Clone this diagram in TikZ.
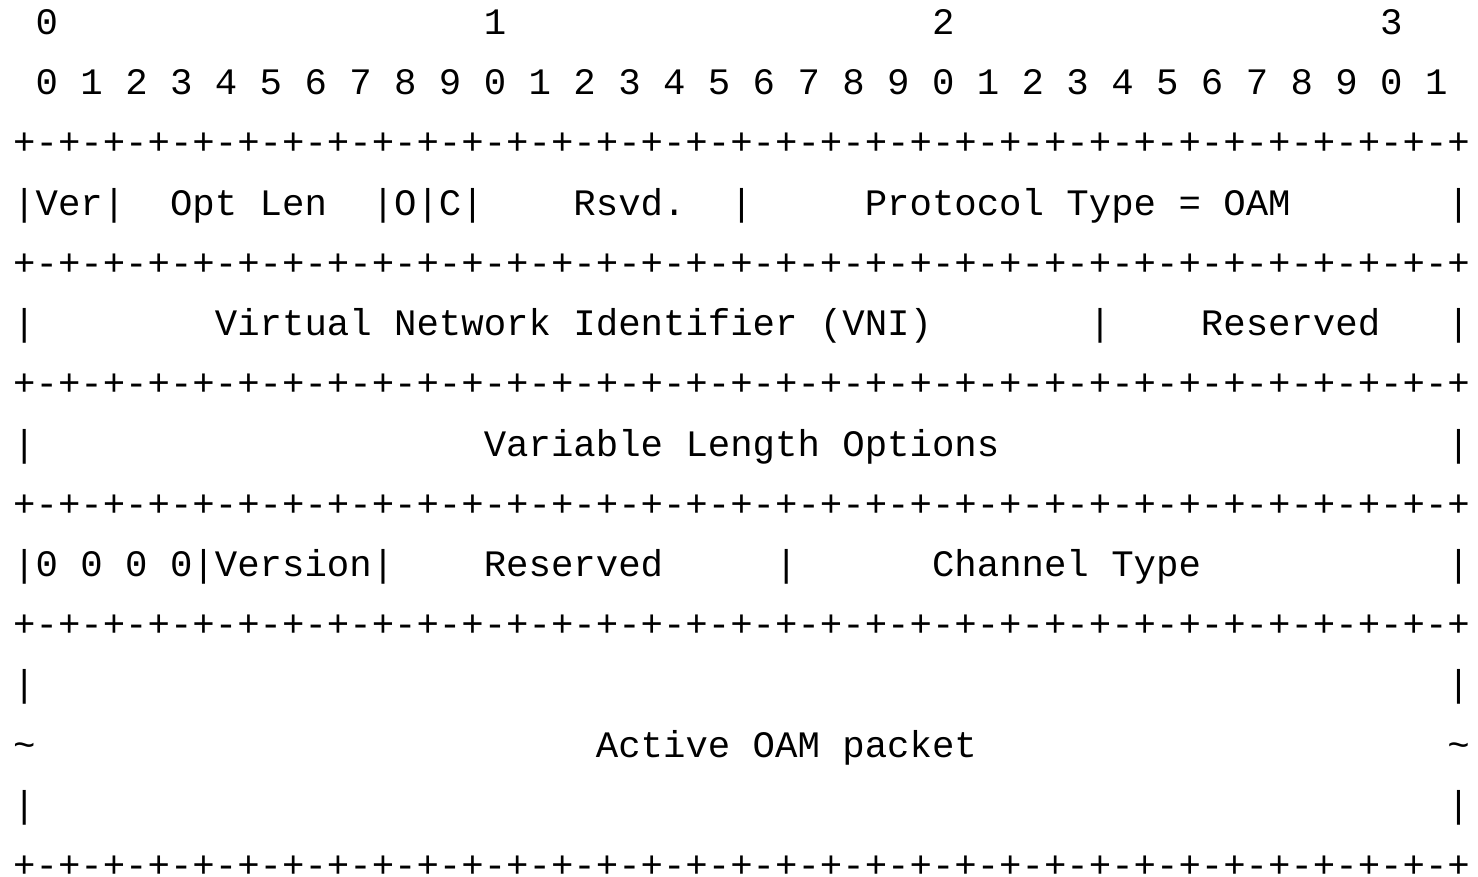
\documentclass[tikz,border=0pt]{standalone}
\usepackage{fontspec}
\newfontfamily\fieldfont{Liberation Mono}
\usepackage{tikz}
\usetikzlibrary{positioning}

\def\borderline{+-+-+-+-+-+-+-+-+-+-+-+-+-+-+-+-+-+-+-+-+-+-+-+-+-+-+-+-+-+-+-+-+}

\begin{document}
\begin{tikzpicture}[
    cell/.style={anchor=base west, inner sep=0pt, font=\fontsize{18.675pt}{22pt}\fieldfont},
    x=11.205pt, y=-30.1pt
]
\useasboundingbox (0,0) rectangle (739pt,-438.5pt);

\begin{scope}[shift={(6.4pt,-17.3pt)}]
% Bit ruler
\foreach \d/\c in {0/1, 1/21, 2/41, 3/61}
    \node[cell] (tens\d) at (\c, 0) {\d};
\foreach \i in {0,...,31} {
    \pgfmathtruncatemacro{\u}{mod(\i,10)}
    \node[cell] (bit\i) at ({1+2*\i}, 1) {\u};
}

% Borders
\foreach \r in {2, 4, 6, 8, 10, 14}
    \node[cell] (border\r) at (0, \r) {\borderline};

% Geneve header, word 1
\node[cell] (ver) at (0, 3) {|Ver|};
\node[cell] (optlen) at (7, 3) {Opt Len};
\node[cell] (ocflags) at (16, 3) {|O|C|};
\node[cell] (rsvd) at (25, 3) {Rsvd.};
\node[cell] (sep3a) at (32, 3) {|};
\node[cell] (proto) at (38, 3) {Protocol Type = OAM};
\node[cell] (sep3b) at (64, 3) {|};

% Geneve header, word 2
\node[cell] (sep5a) at (0, 5) {|};
\node[cell] (vni) at (9, 5) {Virtual Network Identifier (VNI)};
\node[cell] (sep5b) at (48, 5) {|};
\node[cell] (reserved5) at (53, 5) {Reserved};
\node[cell] (sep5c) at (64, 5) {|};

% Options
\node[cell] (sep7a) at (0, 7) {|};
\node[cell] (options) at (21, 7) {Variable Length Options};
\node[cell] (sep7b) at (64, 7) {|};

% Associated channel header
\node[cell] (nibble) at (0, 9) {|0 0 0 0|Version|};
\node[cell] (reserved9) at (21, 9) {Reserved};
\node[cell] (sep9a) at (34, 9) {|};
\node[cell] (chtype) at (41, 9) {Channel Type};
\node[cell] (sep9b) at (64, 9) {|};

% Payload
\node[cell] (sep11a) at (0, 11) {|};
\node[cell] (sep11b) at (64, 11) {|};
\node[cell] (tilde12a) at (0, 12) {\textasciitilde};
\node[cell] (payload) at (26, 12) {Active OAM packet};
\node[cell] (tilde12b) at (64, 12) {\textasciitilde};
\node[cell] (sep13a) at (0, 13) {|};
\node[cell] (sep13b) at (64, 13) {|};
\end{scope}
\end{tikzpicture}
\end{document}
